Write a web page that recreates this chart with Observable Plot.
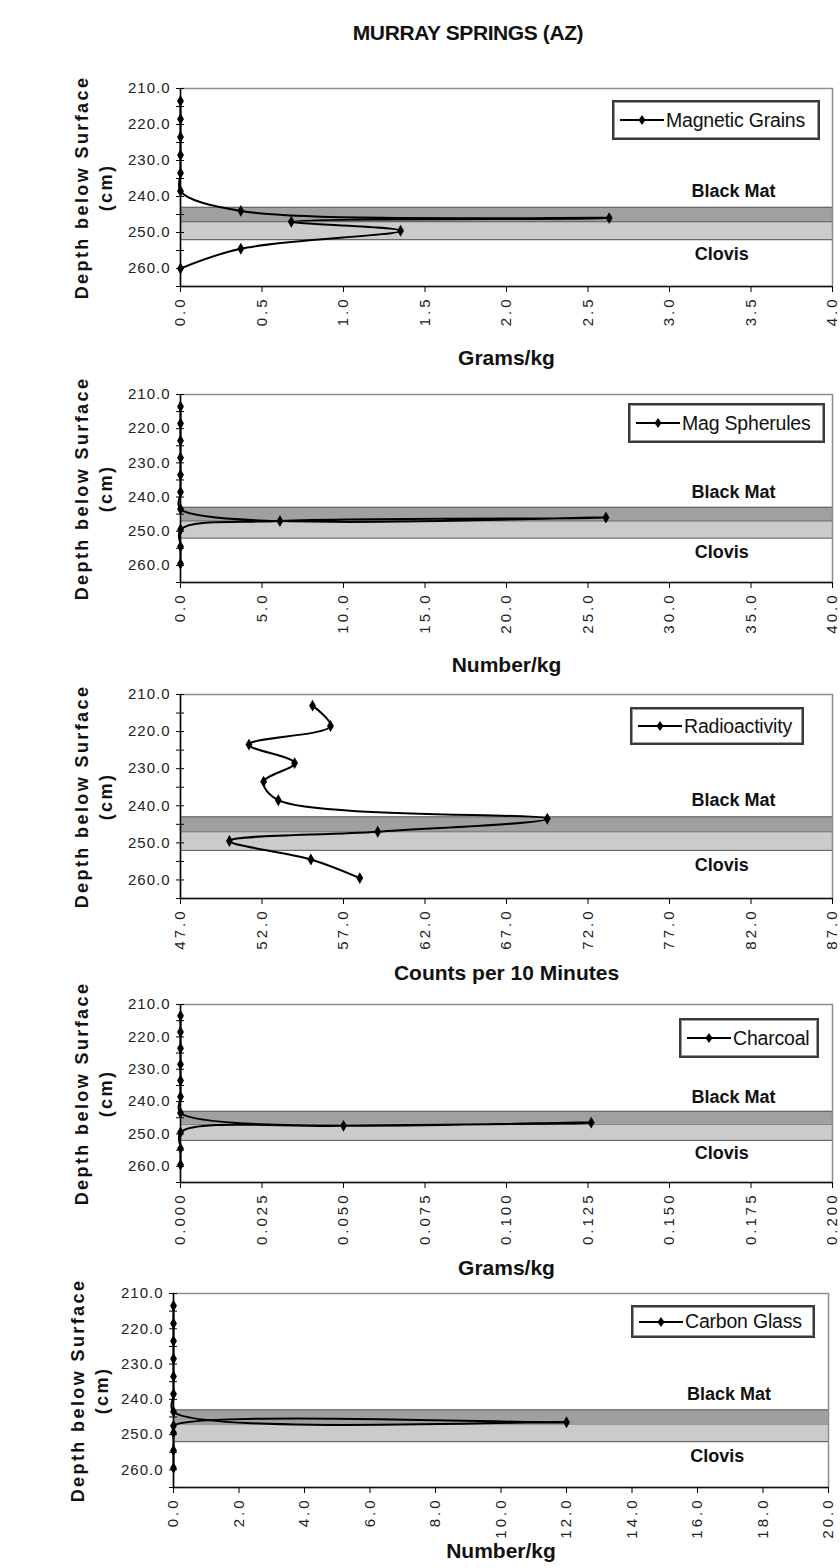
<!DOCTYPE html>
<html>
<head>
<meta charset="utf-8">
<script src="https://cdn.jsdelivr.net/npm/d3@7"></script>
<script src="https://cdn.jsdelivr.net/npm/@observablehq/plot@0.6"></script>
<style>
  html, body { margin: 0; padding: 0; background: #ffffff; }
  body { font-family: "Liberation Sans", Arial, Helvetica, sans-serif; }
  #wrap { position: relative; width: 840px; height: 1568px; overflow: hidden; background: #fff; }
  #title { position: absolute; left: 268px; width: 400px; top: 20px; text-align: center;
           font-weight: bold; font-size: 21px; line-height: 26px; color: #111; letter-spacing: -0.4px; }
  .panel { position: absolute; left: 0; }
  .legend { position: absolute; box-sizing: border-box; border: 2px solid #3a3a3a;
            box-shadow: inset 0 0 0 1px #9a9a9a; background: #fff; display: flex; align-items: center;
            padding-left: 5px; font-size: 19.5px; color: #111; white-space: nowrap; letter-spacing: -0.2px; }
  .legend svg { flex: none; margin-right: 1px; }
</style>
</head>
<body>
<div id="wrap">
  <div id="title">MURRAY SPRINGS (AZ)</div>
</div>
<script>
// ---------------- data ----------------
const depthDomain = [210, 265];
const depthTicks = [210, 220, 230, 240, 250, 260];
const depthMinorTicks = [210, 215, 220, 225, 230, 235, 240, 245, 250, 255, 260, 265];
const blackMatLayer = [243, 247];
const clovisLayer = [247, 252];
const layerNames = ["Black Mat", "Clovis"];
const layerLabelDepths = [238.5, 256];
const yTitle = "Depth below Surface\n(cm)";

const seriesNames = ["Magnetic Grains", "Mag Spherules", "Radioactivity", "Charcoal", "Carbon Glass"];
const xTitles = ["Grams/kg", "Number/kg", "Counts per 10 Minutes", "Grams/kg", "Number/kg"];

const magDepth = [213.5, 218.5, 223.5, 228.5, 233.5, 238.5, 244, 246, 247, 249.5, 254.5, 260];
const magGrains = [0, 0, 0, 0, 0, 0, 0.37, 2.63, 0.68, 1.35, 0.37, 0];
const magTicks = [0, 0.5, 1.0, 1.5, 2.0, 2.5, 3.0, 3.5, 4.0];

const sphDepth = [213.5, 218.5, 223.5, 228.5, 233.5, 238.5, 243.5, 246, 247, 249.5, 254.5, 259.5];
const sphNumber = [0, 0, 0, 0, 0, 0, 0, 26.1, 6.1, 0, 0, 0];
const sphTicks = [0, 5, 10, 15, 20, 25, 30, 35, 40];

const radDepth = [213, 218.5, 223.5, 228.5, 233.5, 238.5, 243.5, 247, 249.5, 254.5, 259.5];
const radCounts = [55.1, 56.2, 51.2, 54.0, 52.1, 53.0, 69.5, 59.1, 50.0, 55.0, 58.0];
const radTicks = [47, 52, 57, 62, 67, 72, 77, 82, 87];

const charDepth = [213.5, 218.5, 223.5, 228.5, 233.5, 238.5, 243.5, 246.5, 247.5, 249.5, 254.5, 259.5];
const charGrams = [0, 0, 0, 0, 0, 0, 0, 0.126, 0.05, 0, 0, 0];
const charTicks = [0, 0.025, 0.05, 0.075, 0.1, 0.125, 0.15, 0.175, 0.2];

const carbDepth = [213.5, 218.5, 223.5, 228.5, 233.5, 238.5, 243.5, 246.5, 247.5, 249.5, 254.5, 259.5];
const carbNumber = [0, 0, 0, 0, 0, 0, 0, 12.0, 0, 0, 0, 0];
const carbTicks = [0, 2, 4, 6, 8, 10, 12, 14, 16, 18, 20];

// ---------------- layout ----------------
const FONT = '"Liberation Sans", Arial, Helvetica, sans-serif';
const layout = [
  {top: 88,   bottom: 286,  left: 180, right: 832, titleY: 364,  yTitleX: 92, legend: [612, 100, 208, 40], fmt: ".1f"},
  {top: 394,  bottom: 582,  left: 180, right: 832, titleY: 671,  yTitleX: 92, legend: [628, 403, 197, 40], fmt: ".1f"},
  {top: 694,  bottom: 898,  left: 180, right: 832, titleY: 979,  yTitleX: 92, legend: [630, 707, 174, 38], fmt: ".1f"},
  {top: 1004, bottom: 1182, left: 180, right: 832, titleY: 1274, yTitleX: 92, legend: [679, 1018, 140, 40], fmt: ".3f"},
  {top: 1293, bottom: 1487, left: 173, right: 828, titleY: 1557, yTitleX: 88, legend: [631, 1305, 184, 33], fmt: ".1f"}
];
const series = [
  {depth: magDepth, values: magGrains, ticks: magTicks},
  {depth: sphDepth, values: sphNumber, ticks: sphTicks},
  {depth: radDepth, values: radCounts, ticks: radTicks},
  {depth: charDepth, values: charGrams, ticks: charTicks},
  {depth: carbDepth, values: carbNumber, ticks: carbTicks}
];

const wrap = document.getElementById("wrap");
const yFmt = d3.format(".1f");
const yLabelSet = new Set(depthTicks.map(yFmt));

series.forEach((s, k) => {
  const L = layout[k];
  const mt = 14;
  const mb = L.titleY - L.bottom + 14;
  const x0 = s.ticks[0], x1 = s.ticks[s.ticks.length - 1];
  const rows = s.depth.map((d, i) => ({depth: d, value: s.values[i]}));
  const labelX = [x0 + 0.848 * (x1 - x0), x0 + 0.83 * (x1 - x0)];
  const xFmt = d3.format(L.fmt);
  const xLabelSet = new Set(s.ticks.map(xFmt));

  const chart = Plot.plot({
    width: 840,
    height: mt + (L.bottom - L.top) + mb,
    marginTop: mt,
    marginBottom: mb,
    marginLeft: L.left,
    marginRight: 840 - L.right,
    style: {background: "transparent", fontFamily: FONT, color: "#222", overflow: "visible"},
    x: {domain: [x0, x1], label: null},
    y: {domain: depthDomain, reverse: true, label: null},
    marks: [
      Plot.rect([blackMatLayer], {x1: x0, x2: x1, y1: d => d[0], y2: d => d[1], fill: "#a0a0a0"}),
      Plot.rect([clovisLayer], {x1: x0, x2: x1, y1: d => d[0], y2: d => d[1], fill: "#cbcbcb"}),
      Plot.ruleY([blackMatLayer[0], blackMatLayer[1], clovisLayer[1]], {stroke: "#6a6a6a", strokeWidth: 1.2}),
      Plot.frame({stroke: "#8c8c8c", strokeWidth: 1.5}),
      Plot.text([layerNames[0]], {x: labelX[0], y: layerLabelDepths[0], fontWeight: "bold", fontSize: 18, fill: "#111"}),
      Plot.text([layerNames[1]], {x: labelX[1], y: layerLabelDepths[1], fontWeight: "bold", fontSize: 18, fill: "#111"}),
      Plot.ruleX([x0], {stroke: "#000", strokeWidth: 1.5}),
      Plot.ruleY([depthDomain[1]], {stroke: "#111", strokeWidth: 1.5}),
      Plot.line(rows, {x: "value", y: "depth", curve: "catmull-rom", stroke: "#000", strokeWidth: 2}),
      Plot.dot(rows, {x: "value", y: "depth", symbol: "diamond", r: 3.6, fill: "#000", stroke: "none"}),
      Plot.axisY(depthMinorTicks, {tickSize: 8, dx: 4, tickFormat: () => "", stroke: "#000"}),
      Plot.axisY(depthTicks, {tickSize: 0, tickPadding: 10, tickFormat: yFmt, fontSize: 15, fill: "#222"}),
      Plot.axisX(s.ticks, {tickSize: 6, tickPadding: 4, tickRotate: -90, tickFormat: xFmt, fontSize: 15, fill: "#222", stroke: "#000"}),
      Plot.text([xTitles[k]], {frameAnchor: "bottom", dy: L.titleY - L.bottom, fontWeight: "bold", fontSize: 21, fill: "#111"}),
      Plot.text([yTitle], {frameAnchor: "left", textAnchor: "middle", dx: L.yTitleX - L.left, rotate: -90, fontWeight: "bold",
                           fontSize: 18, lineHeight: 1.33, fill: "#111"})
    ]
  });

  // letter-spacing tweaks to echo the tall, stretched lettering of the original
  d3.select(chart).selectAll("text").each(function () {
    const t = this.textContent;
    if (t.startsWith("Depth")) this.style.letterSpacing = "2.4px";
    else if (yLabelSet.has(t)) this.style.letterSpacing = "1px";
    else if (xLabelSet.has(t)) this.style.letterSpacing = "3px";
  });

  chart.classList.add("panel");
  chart.style.top = (L.top - mt) + "px";
  wrap.appendChild(chart);

  const lg = document.createElement("div");
  lg.className = "legend";
  lg.style.left = L.legend[0] + "px";
  lg.style.top = L.legend[1] + "px";
  lg.style.width = L.legend[2] + "px";
  lg.style.height = L.legend[3] + "px";
  lg.innerHTML = '<svg width="46" height="14"><line x1="1" y1="7" x2="45" y2="7" stroke="#000" stroke-width="2"/>' +
    '<path d="M23,2L26.5,7L23,12L19.5,7Z" fill="#000"/></svg><span>' + seriesNames[k] + '</span>';
  wrap.appendChild(lg);
});
</script>
</body>
</html>
